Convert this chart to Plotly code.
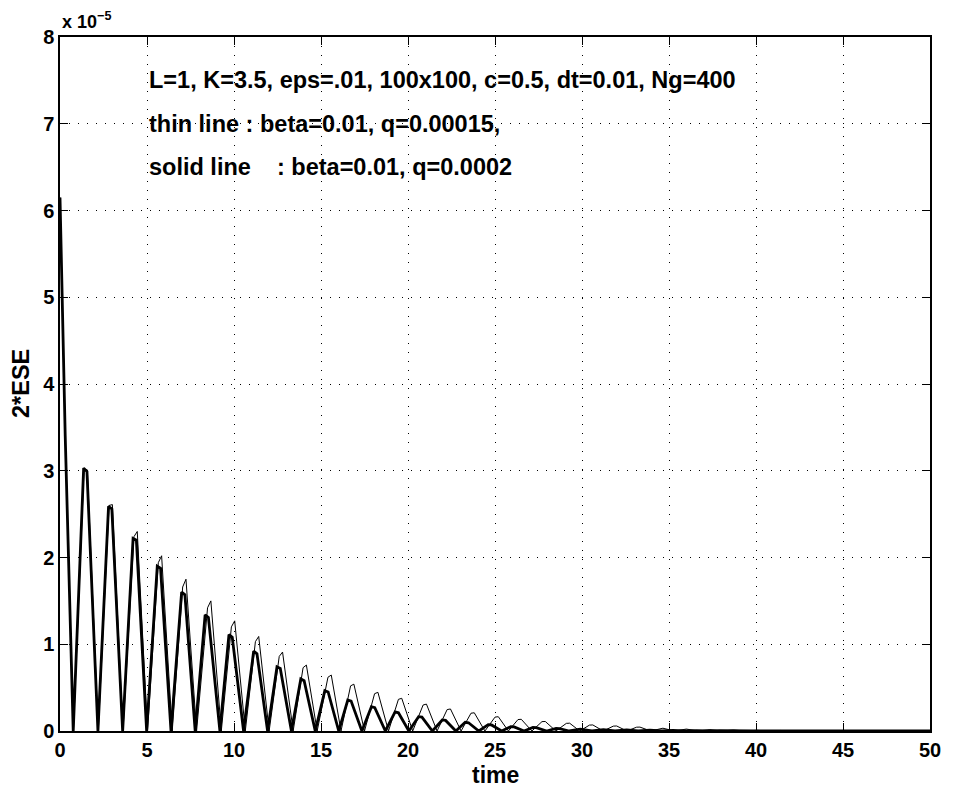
import plotly.graph_objects as go

# ---- data (values in units of 1e-5) ----
thick_t = [0, 0.3, 0.76,
           1.36, 1.55, 2.18, 2.79, 2.98, 3.6, 4.2, 4.39, 4.98, 5.59, 5.78, 6.38,
           6.99, 7.18, 7.77, 8.34, 8.53, 9.19, 9.71, 9.9, 10.55, 11.13, 11.32, 11.93,
           12.47, 12.66, 13.3, 13.84, 14.03, 14.67, 15.22, 15.41, 16.02, 16.54, 16.73, 17.35,
           17.9, 18.09, 18.7, 19.26, 19.45, 20.05, 20.61, 20.8, 21.4, 21.97, 22.16, 22.75,
           23.29, 23.48, 24.07, 24.61, 24.8, 25.38, 25.91, 26.1, 26.67, 27.18, 27.37, 27.97,
           28.51, 28.7, 29.27, 29.9, 30.57, 31.23, 31.9, 32.57, 33.23, 33.9, 34.57, 35.23, 35.9,
           36.57, 37.23, 37.9, 38.57, 39.23, 39.9, 50]
thick_v = [6.15, 3.4, 0,
           3.03, 2.99, 0, 2.59, 2.56, 0, 2.22, 2.20, 0, 1.90, 1.875, 0,
           1.60, 1.57, 0, 1.34, 1.31, 0, 1.11, 1.08, 0, 0.92, 0.89, 0,
           0.74, 0.72, 0, 0.60, 0.58, 0, 0.465, 0.45, 0, 0.357, 0.345, 0,
           0.28, 0.27, 0, 0.22, 0.21, 0, 0.165, 0.16, 0, 0.127, 0.122, 0,
           0.10, 0.095, 0, 0.073, 0.07, 0, 0.05, 0.048, 0, 0.04, 0.038, 0,
           0.03, 0.028, 0, 0.022, 0, 0.016, 0, 0.012, 0, 0.009, 0, 0.007, 0,
           0.005, 0, 0.004, 0, 0.003, 0, 0]

thin_t = [0, 0.3, 0.77,
          1.38, 1.57, 2.2, 2.82, 3.01, 3.62, 4.25, 4.44, 5.03, 5.65, 5.84, 6.45,
          7.05, 7.24, 7.85, 8.48, 8.67, 9.27, 9.85, 10.04, 10.65, 11.23, 11.42, 12.02,
          12.6, 12.79, 13.4, 13.97, 14.16, 14.78, 15.4, 15.59, 16.15, 16.7, 16.89, 17.5,
          18.08, 18.27, 18.88, 19.45, 19.64, 20.27, 20.87, 21.06, 21.67, 22.25, 22.44, 23.05,
          23.62, 23.81, 24.42, 25.0, 25.19, 25.77, 26.32, 26.51, 27.12, 27.7, 27.89, 28.5,
          29.1, 29.29, 29.87, 30.43, 30.62, 31.22, 31.8, 31.99, 32.58, 33.14, 33.33, 33.95,
          34.65, 35.32, 36.0, 36.68, 37.35, 38.02, 38.7, 39.38, 40.05, 40.72, 41.4, 42.1,
          42.8, 43.48, 44.15, 44.82, 45.5, 46.2, 46.9, 47.58, 48.25, 48.92, 49.6, 50]
thin_v = [6.15, 3.4, 0,
          3.02, 3.01, 0, 2.60, 2.61, 0, 2.24, 2.30, 0, 1.94, 2.02, 0,
          1.66, 1.75, 0, 1.42, 1.50, 0, 1.20, 1.27, 0, 1.03, 1.09, 0,
          0.86, 0.91, 0, 0.73, 0.76, 0, 0.62, 0.645, 0, 0.52, 0.54, 0,
          0.43, 0.446, 0, 0.365, 0.377, 0, 0.30, 0.31, 0, 0.247, 0.254, 0,
          0.205, 0.21, 0, 0.16, 0.165, 0, 0.132, 0.135, 0, 0.108, 0.11, 0,
          0.088, 0.09, 0, 0.068, 0.07, 0, 0.056, 0.058, 0, 0.044, 0.045, 0,
          0.032, 0, 0.022, 0, 0.016, 0, 0.011, 0, 0.008, 0, 0.006, 0,
          0.005, 0, 0.004, 0, 0.003, 0, 0.003, 0, 0.002, 0, 0.002, 0]

x_ticks = [0, 5, 10, 15, 20, 25, 30, 35, 40, 45, 50]
y_ticks = [0, 1, 2, 3, 4, 5, 6, 7, 8]
SCALE = 1e-5

info_lines = [
    "L=1, K=3.5, eps=.01, 100x100, c=0.5, dt=0.01, Ng=400",
    "thin line : beta=0.01, q=0.00015,",
    "solid line\u00a0\u00a0\u00a0 : beta=0.01, q=0.0002",
]
info_y = [7.5, 7.0, 6.5]

FONT = "Liberation Sans, Arial, Helvetica, sans-serif"

fig = go.Figure()
fig.add_trace(go.Scatter(x=thick_t, y=[v * SCALE for v in thick_v], mode="lines",
                         line=dict(color="black", width=2.8), showlegend=False))
fig.add_trace(go.Scatter(x=thin_t, y=[v * SCALE for v in thin_v], mode="lines",
                         line=dict(color="black", width=1), showlegend=False))

axis_common = dict(showline=True, mirror="ticks", linecolor="black", linewidth=1.5,
                   ticks="inside", ticklen=8, tickwidth=1, tickcolor="black",
                   showgrid=True, gridcolor="black", gridwidth=1, griddash="1px,8px",
                   zeroline=False,
                   tickfont=dict(family=FONT, size=20, color="black", weight="bold"))

fig.update_xaxes(range=[0, 50], tickvals=x_ticks, ticktext=[str(v) for v in x_ticks], **axis_common)
fig.update_yaxes(range=[0, 8 * SCALE], tickvals=[v * SCALE for v in y_ticks],
                 ticktext=[str(v) for v in y_ticks], **axis_common)

ann = []
for txt, yy in zip(info_lines, info_y):
    ann.append(dict(x=5, y=yy * SCALE, xref="x", yref="y", text=txt, showarrow=False,
                    xanchor="left", yanchor="middle",
                    font=dict(family=FONT, size=23.5, color="black", weight="bold")))
ann.append(dict(x=0, y=1, xref="paper", yref="paper", text="x 10<sup>\u22125</sup>",
                showarrow=False, xanchor="left", yanchor="bottom", yshift=3,
                font=dict(family=FONT, size=18, color="black", weight="bold")))
ann.append(dict(x=0.5, y=0, xref="paper", yref="paper", text="time", showarrow=False,
                xanchor="center", yanchor="middle", yshift=-44,
                font=dict(family=FONT, size=23, color="black", weight="bold")))
ann.append(dict(x=0, y=0.5, xref="paper", yref="paper", text="2*ESE", showarrow=False,
                xanchor="center", yanchor="middle", xshift=-39, textangle=-90,
                font=dict(family=FONT, size=23.5, color="black", weight="bold")))

fig.update_layout(width=953, height=789, margin=dict(l=60, r=14, t=37, b=58),
                  paper_bgcolor="white", plot_bgcolor="white", annotations=ann)

fig.write_html("out.html")
